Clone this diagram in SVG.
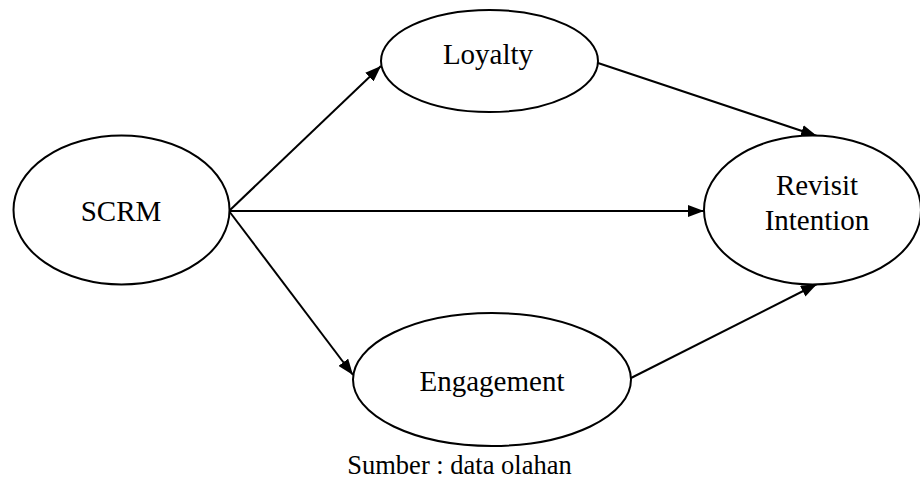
<svg xmlns="http://www.w3.org/2000/svg" width="920" height="479" viewBox="0 0 920 479">
<style>
  .node ellipse { fill: #ffffff; stroke: #000000; stroke-width: 2; }
  .label { font-size: 29px; fill: #000000; text-anchor: middle; }
  .edge { stroke: #000000; stroke-width: 2; fill: none; marker-end: url(#arrow); }
  .caption { font-size: 26.5px; fill: #000000; text-anchor: middle; }
</style>
<defs>
  <marker id="arrow" markerUnits="userSpaceOnUse" markerWidth="16" markerHeight="12" refX="16" refY="6" orient="auto">
    <path d="M0,0 L16,6 L0,12 Z" fill="#000000"/>
  </marker>
</defs>
<rect width="920" height="479" fill="#ffffff"/>
<g id="connectors">
  <line class="edge" x1="229" y1="211" x2="381" y2="66"/>
  <line class="edge" x1="229" y1="211" x2="704" y2="211"/>
  <line class="edge" x1="229" y1="211" x2="353" y2="375"/>
  <line class="edge" x1="598" y1="63" x2="817" y2="136"/>
  <line class="edge" x1="631" y1="378" x2="817" y2="284"/>
</g>
<g font-family="Liberation Serif, Tinos, DejaVu Serif, serif">
<g id="node-scrm" class="node">
  <ellipse cx="121.5" cy="210" rx="108" ry="74.5"/>
  <text class="label" x="121" y="221">SCRM</text>
</g>
<g id="node-loyalty" class="node">
  <ellipse cx="489.5" cy="61" rx="108.5" ry="51"/>
  <text class="label" x="488" y="64">Loyalty</text>
</g>
<g id="node-engagement" class="node">
  <ellipse cx="492" cy="379.5" rx="139" ry="66.5"/>
  <text class="label" x="492" y="391">Engagement</text>
</g>
<g id="node-revisit" class="node">
  <ellipse cx="812.5" cy="210" rx="108.5" ry="74.5"/>
  <text class="label" x="817" y="195">Revisit</text>
  <text class="label" x="817" y="230">Intention</text>
</g>
<text class="caption" x="459.5" y="474">Sumber : data olahan</text>
</g>
</svg>
